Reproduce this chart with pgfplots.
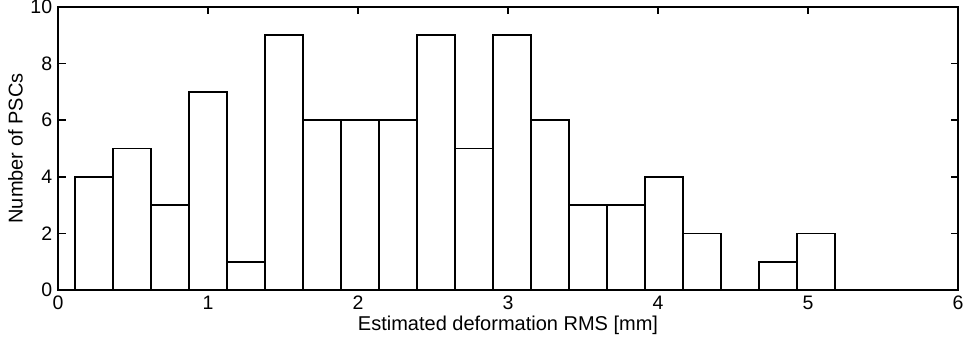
\documentclass[border=0pt]{standalone}
\usepackage{pgfplots}
\pgfplotsset{compat=1.18}
\usepackage{fontspec}
\setmainfont{Liberation Sans}
\begin{document}
\fontsize{20}{24}\selectfont
\begin{tikzpicture}
\begin{axis}[
  scale only axis, width=900pt, height=283pt,
  xmin=0, xmax=6, ymin=0, ymax=10,
  xtick={0,1,...,6}, ytick={0,2,...,10},
  tick align=inside, major tick length=7.5pt,
  axis line style={line width=2.2pt},
  every tick/.style={black, line width=1.8pt},
  /pgf/number format/assume math mode=true,
  tick label style={font=\fontsize{19.5}{23}\selectfont},
  label style={font=\fontsize{20}{24}\selectfont},
  xlabel={Estimated deformation RMS [mm]},
  ylabel={Number of PSCs},
  xlabel style={yshift=7pt},
  ylabel style={yshift=-6pt},
  xticklabel style={yshift=1pt},
  yticklabel style={xshift=1pt},
  clip=true,
]
\addplot[ybar interval, fill=white, draw=black, line width=1.8pt] coordinates {
(0.111,4) (0.3645,5) (0.618,3) (0.8715,7) (1.125,1) (1.3785,9) (1.632,6) (1.8855,6)
(2.139,6) (2.3925,9) (2.646,5) (2.8995,9) (3.153,6) (3.4065,3) (3.66,3) (3.9135,4)
(4.167,2) (4.4205,0) (4.674,1) (4.9275,2) (5.181,0) (5.4345,0) (5.688,0) (5.9415,0) (6.0,0)
};
\coordinate (sw) at (rel axis cs:0,0);
\coordinate (ne) at (rel axis cs:1,1);
\end{axis}
\pgfresetboundingbox
\path ([shift={(-58pt,-50pt)}]sw) rectangle ([shift={(7pt,7pt)}]ne);
\end{tikzpicture}
\end{document}
